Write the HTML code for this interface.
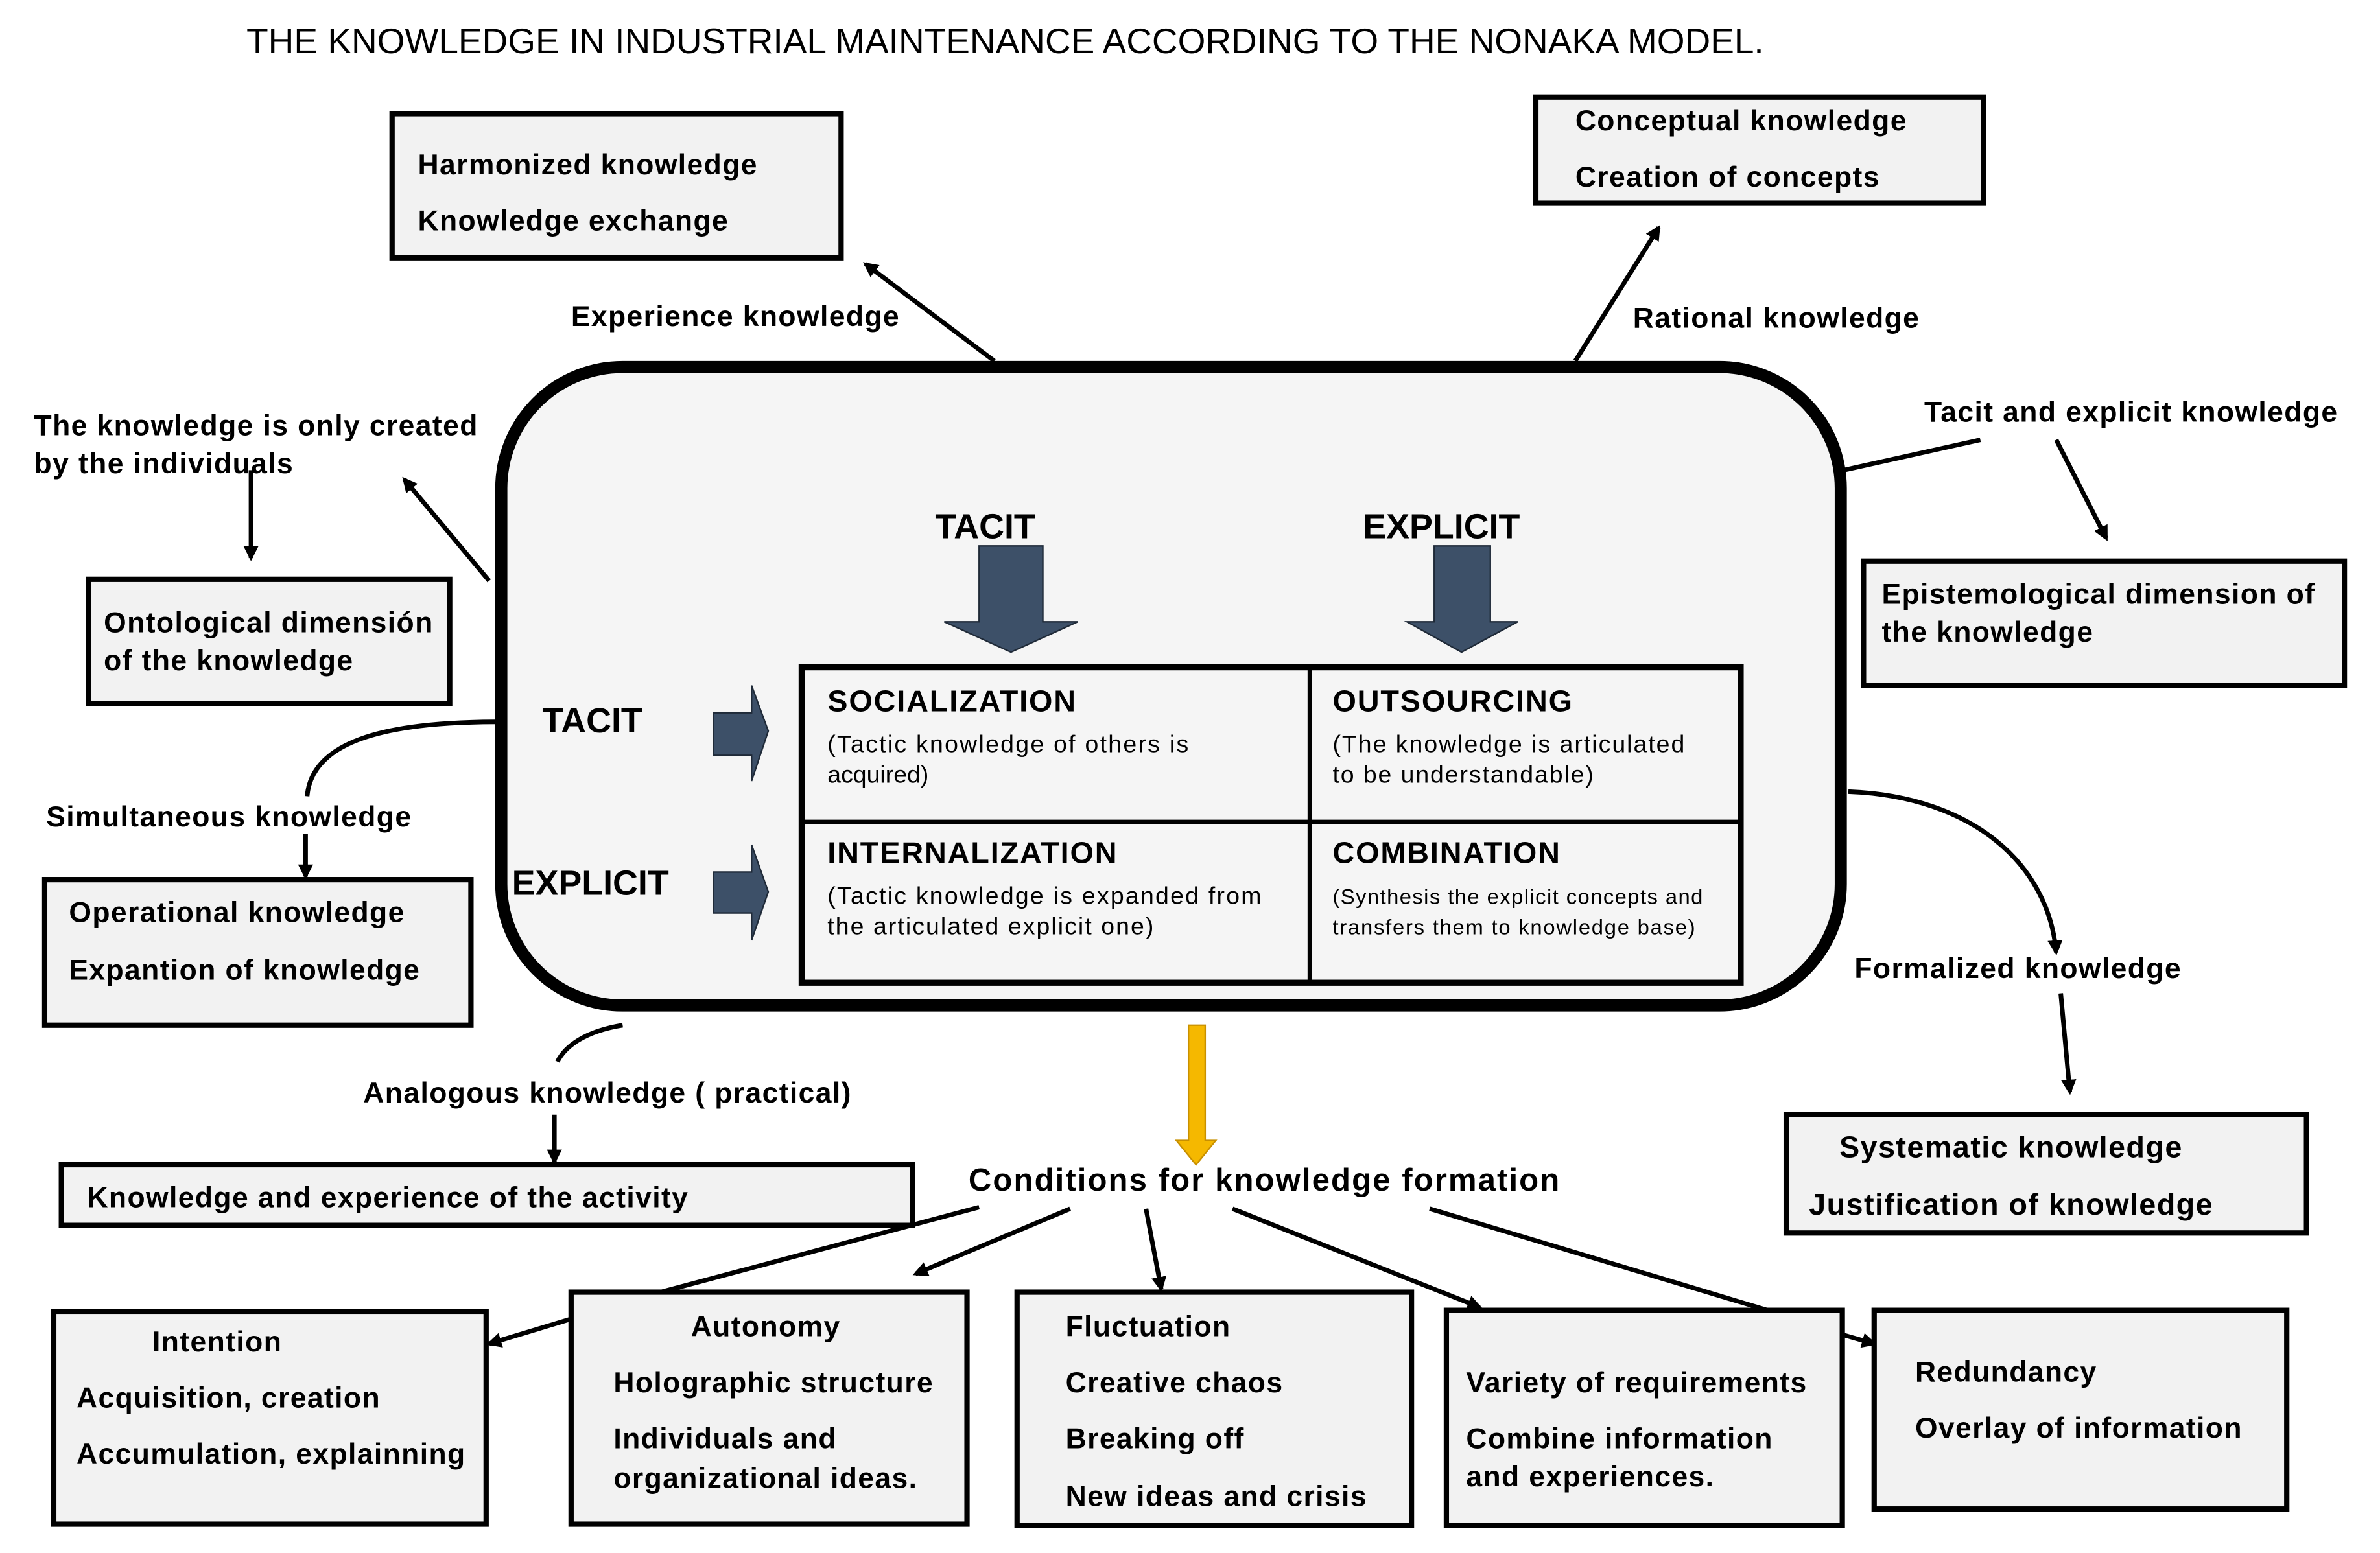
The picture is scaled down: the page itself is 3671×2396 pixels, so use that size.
<!DOCTYPE html>
<html><head><meta charset="utf-8"><style>
html,body{margin:0;padding:0;background:#fff}
svg{display:block}
text{font-family:"Liberation Sans",sans-serif;font-weight:bold;fill:#000}
.lb text{letter-spacing:0.6px}
text.n{font-weight:normal}
</style></head><body>
<svg width="3671" height="2396" viewBox="0 0 1568 1024" xmlns="http://www.w3.org/2000/svg">
<defs>
<marker id="a" markerWidth="10" markerHeight="10" refX="8" refY="5" orient="auto" markerUnits="userSpaceOnUse"><path d="M0,0 L10,5 L0,10 z" fill="#000"/></marker>
</defs>
<rect width="1568" height="1024" fill="#fff"/>
<text class="n" x="162" y="35" font-size="23.5">THE KNOWLEDGE IN INDUSTRIAL MAINTENANCE ACCORDING TO THE NONAKA MODEL.</text>

<g stroke="#000" stroke-width="3" fill="none">
<line x1="655" y1="238" x2="570" y2="174" marker-end="url(#a)"/>
<line x1="1038" y1="238" x2="1093" y2="150" marker-end="url(#a)"/>
<polyline points="1215,310 1305,290"/>
<line x1="1355" y1="290" x2="1388" y2="355" marker-end="url(#a)"/>
<line x1="165" y1="310" x2="165" y2="368" marker-end="url(#a)"/>
<line x1="322" y1="383" x2="266" y2="316" marker-end="url(#a)"/>
<path d="M328,476 C250,476 205,490 202,525"/>
<line x1="201" y1="550" x2="201" y2="578" marker-end="url(#a)"/>
<path d="M410,676 C385,680 372,690 367,700"/>
<line x1="365" y1="735" x2="365" y2="766" marker-end="url(#a)"/>
<path d="M1218,522 C1300,525 1350,570 1355,628" marker-end="url(#a)"/>
<line x1="1358" y1="655" x2="1364" y2="720" marker-end="url(#a)"/>
<line x1="645" y1="796" x2="375" y2="868"/>
<line x1="375" y1="870" x2="322" y2="886" marker-end="url(#a)"/>
<line x1="705" y1="797" x2="603" y2="840" marker-end="url(#a)"/>
<line x1="755" y1="797" x2="765" y2="850" marker-end="url(#a)"/>
<line x1="812" y1="797" x2="975" y2="862" marker-end="url(#a)"/>
<line x1="942" y1="797" x2="1165" y2="864"/>
<line x1="1214" y1="880" x2="1235" y2="886" marker-end="url(#a)"/>
</g>

<g fill="#f2f2f2" stroke="#000" stroke-width="3.5">
<rect x="258" y="75" width="296" height="95"/>
<rect x="1012" y="64" width="295" height="70"/>
<rect x="1228" y="370" width="317" height="82"/>
<rect x="58" y="382" width="238" height="82"/>
<rect x="29" y="580" width="281" height="96"/>
<rect x="40" y="768" width="561" height="40"/>
<rect x="1177" y="735" width="343" height="78"/>
<rect x="35" y="865" width="285" height="140"/>
<rect x="376" y="852" width="261" height="153"/>
<rect x="670" y="852" width="260" height="154"/>
<rect x="953" y="864" width="261" height="142"/>
<rect x="1235" y="864" width="272" height="131"/>
</g>

<rect x="330" y="242" width="883" height="421" rx="80" fill="#f5f5f5" stroke="#000" stroke-width="8"/>
<rect x="528" y="440" width="619" height="208" fill="#f5f5f5" stroke="#000" stroke-width="4"/>
<line x1="863" y1="440" x2="863" y2="648" stroke="#000" stroke-width="3"/>
<line x1="528" y1="542" x2="1147" y2="542" stroke="#000" stroke-width="3"/>

<g fill="#3d5068" stroke="#1f2a38" stroke-width="1">
<path d="M645,360 H687 V410 H710 L666,430 L622,410 H645 z"/>
<path d="M945,360 H982 V410 H1000 L963,430 L927,410 H945 z"/>
<path d="M470,470 H495 V452 L506,482 L495,515 V498 H470 z"/>
<path d="M470,575 H495 V557 L506,588 L495,620 V602 H470 z"/>
</g>
<path d="M783,676 H794 V752 H801 L788,768 L775,752 H783 z" fill="#f5b800" stroke="#c89000" stroke-width="1"/>

<g font-size="19" class="lb">
<text x="275" y="115">Harmonized knowledge</text>
<text x="275" y="152">Knowledge exchange</text>
<text x="1038" y="86">Conceptual knowledge</text>
<text x="1038" y="123">Creation of concepts</text>
<text x="376" y="215">Experience knowledge</text>
<text x="1076" y="216">Rational knowledge</text>
<text x="1268" y="278">Tacit and explicit knowledge</text>
<text x="1240" y="398">Epistemological dimension of</text>
<text x="1240" y="423">the knowledge</text>
<text x="22" y="287">The knowledge is only created</text>
<text x="22" y="312">by the individuals</text>
<text x="68" y="417">Ontological dimensión</text>
<text x="68" y="442">of the knowledge</text>
<text x="30" y="545">Simultaneous knowledge</text>
<text x="45" y="608">Operational knowledge</text>
<text x="45" y="646">Expantion of knowledge</text>
<text x="239" y="727">Analogous knowledge ( practical)</text>
<text x="57" y="796">Knowledge and experience of the activity</text>
<text x="1222" y="645">Formalized knowledge</text>
<text x="1212" y="763" font-size="20">Systematic knowledge</text>
<text x="1192" y="801" font-size="20">Justification of knowledge</text>
<text x="100" y="891">Intention</text>
<text x="50" y="928">Acquisition, creation</text>
<text x="50" y="965">Accumulation, explainning</text>
<text x="455" y="881">Autonomy</text>
<text x="404" y="918">Holographic structure</text>
<text x="404" y="955">Individuals and</text>
<text x="404" y="981">organizational ideas.</text>
<text x="702" y="881">Fluctuation</text>
<text x="702" y="918">Creative chaos</text>
<text x="702" y="955">Breaking off</text>
<text x="702" y="993">New ideas and crisis</text>
<text x="966" y="918">Variety of requirements</text>
<text x="966" y="955">Combine information</text>
<text x="966" y="980">and experiences.</text>
<text x="1262" y="911">Redundancy</text>
<text x="1262" y="948">Overlay of information</text>
</g>
<text x="638" y="785" font-size="21" style="letter-spacing:0.5px" textLength="390" lengthAdjust="spacing">Conditions for knowledge formation</text>
<text x="616" y="355" font-size="23">TACIT</text>
<text x="898" y="355" font-size="23">EXPLICIT</text>
<text x="357" y="483" font-size="23">TACIT</text>
<text x="337" y="590" font-size="23">EXPLICIT</text>
<g font-size="20" style="letter-spacing:0.8px">
<text x="545" y="469">SOCIALIZATION</text>
<text x="878" y="469">OUTSOURCING</text>
<text x="545" y="569">INTERNALIZATION</text>
<text x="878" y="569">COMBINATION</text>
</g>
<g font-size="16">
<text class="n" x="545" y="496" textLength="238" lengthAdjust="spacing">(Tactic knowledge of others is</text>
<text class="n" x="545" y="516">acquired)</text>
<text class="n" x="878" y="496" textLength="232" lengthAdjust="spacing">(The knowledge is articulated</text>
<text class="n" x="878" y="516" textLength="172" lengthAdjust="spacing">to be understandable)</text>
<text class="n" x="545" y="596" textLength="286" lengthAdjust="spacing">(Tactic knowledge is expanded from</text>
<text class="n" x="545" y="616" textLength="215" lengthAdjust="spacing">the articulated explicit one)</text>
<text class="n" x="878" y="596" font-size="14" textLength="244" lengthAdjust="spacing">(Synthesis the explicit concepts and</text>
<text class="n" x="878" y="616" font-size="14" textLength="239" lengthAdjust="spacing">transfers them to knowledge base)</text>
</g>
</svg>
</body></html>
